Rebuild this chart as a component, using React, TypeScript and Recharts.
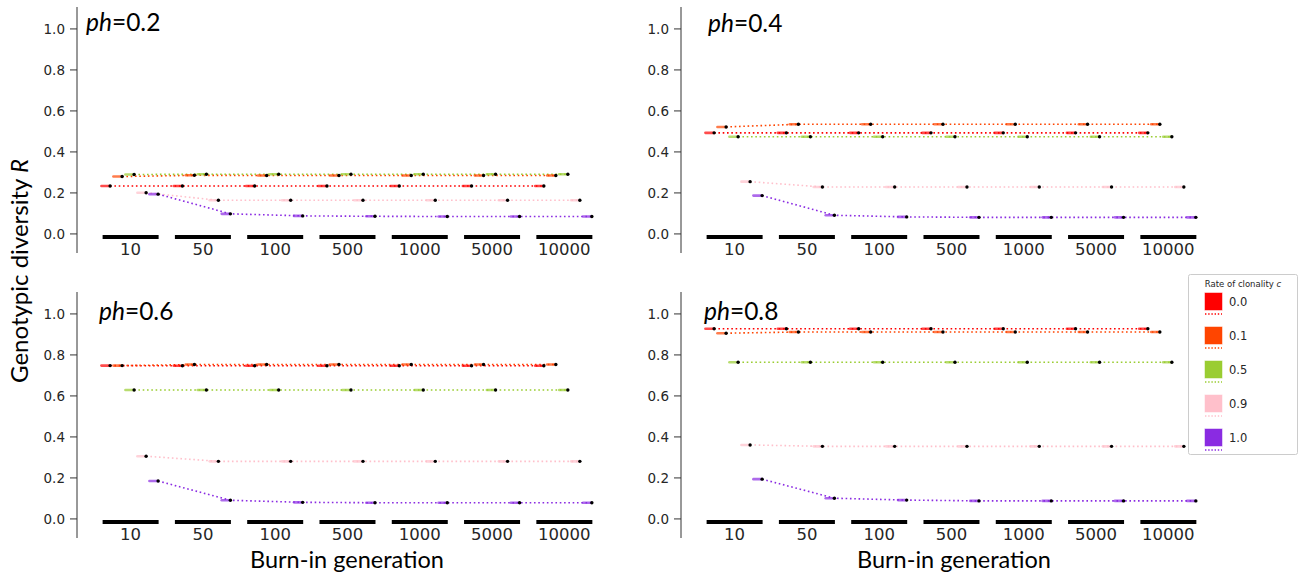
import React from 'react';
import { ComposedChart, Line, XAxis, YAxis } from 'recharts';

// ---------- data ----------
const categories = ['10', '50', '100', '500', '1000', '5000', '10000'];
const clonality = ['0.0', '0.1', '0.5', '0.9', '1.0'];
const colors = ['#ff0000', '#ff4500', '#9acd32', '#ffc0cb', '#8a2be2'];
const yTicks = [0, 0.2, 0.4, 0.6, 0.8, 1.0];
const dodge = [-0.332, -0.166, 0, 0.166, 0.332];

// ph = 0.2
const ph02_c00 = [0.234, 0.234, 0.234, 0.234, 0.234, 0.234, 0.234];
const ph02_c01 = [0.280, 0.286, 0.285, 0.285, 0.285, 0.285, 0.285];
const ph02_c05 = [0.290, 0.291, 0.291, 0.291, 0.291, 0.291, 0.291];
const ph02_c09 = [0.201, 0.164, 0.164, 0.164, 0.164, 0.164, 0.164];
const ph02_c10 = [0.194, 0.098, 0.088, 0.086, 0.085, 0.085, 0.085];
// ph = 0.4
const ph04_c00 = [0.493, 0.493, 0.493, 0.493, 0.493, 0.493, 0.493];
const ph04_c01 = [0.522, 0.535, 0.535, 0.535, 0.535, 0.535, 0.535];
const ph04_c05 = [0.474, 0.474, 0.474, 0.474, 0.474, 0.474, 0.474];
const ph04_c09 = [0.255, 0.229, 0.229, 0.229, 0.229, 0.229, 0.229];
const ph04_c10 = [0.187, 0.091, 0.083, 0.081, 0.081, 0.081, 0.081];
// ph = 0.6
const ph06_c00 = [0.748, 0.747, 0.747, 0.747, 0.747, 0.747, 0.747];
const ph06_c01 = [0.748, 0.753, 0.753, 0.753, 0.753, 0.753, 0.753];
const ph06_c05 = [0.629, 0.629, 0.629, 0.629, 0.629, 0.629, 0.629];
const ph06_c09 = [0.306, 0.281, 0.281, 0.281, 0.281, 0.281, 0.281];
const ph06_c10 = [0.185, 0.091, 0.081, 0.079, 0.079, 0.079, 0.079];
// ph = 0.8
const ph08_c00 = [0.928, 0.928, 0.928, 0.928, 0.928, 0.928, 0.928];
const ph08_c01 = [0.906, 0.912, 0.912, 0.912, 0.912, 0.912, 0.912];
const ph08_c05 = [0.764, 0.764, 0.764, 0.764, 0.764, 0.764, 0.764];
const ph08_c09 = [0.361, 0.354, 0.354, 0.354, 0.354, 0.354, 0.354];
const ph08_c10 = [0.194, 0.101, 0.092, 0.088, 0.088, 0.088, 0.088];

const panelLabels = ['0.2', '0.4', '0.6', '0.8'];
const panelSeries = [
  [ph02_c00, ph02_c01, ph02_c05, ph02_c09, ph02_c10],
  [ph04_c00, ph04_c01, ph04_c05, ph04_c09, ph04_c10],
  [ph06_c00, ph06_c01, ph06_c05, ph06_c09, ph06_c10],
  [ph08_c00, ph08_c01, ph08_c05, ph08_c09, ph08_c10],
];

// ---------- layout ----------
const X_DOMAIN: [number, number] = [-0.79, 6.5];
const Y_DOMAIN: [number, number] = [-0.093, 1.107];
const YAXIS_W = 40;
const PLOT_W = 527;
const PLOT_H = 246;
const XAXIS_H = 24;
const CHART_W = YAXIS_W + PLOT_W + 4;
const CHART_H = PLOT_H + XAXIS_H;
const panelPos = [
  { left: 37, top: 7 },
  { left: 641, top: 7 },
  { left: 37, top: 292 },
  { left: 641, top: 292 },
];
const phPos = [
  { x: 86, y: 31 },
  { x: 708, y: 32 },
  { x: 99, y: 320 },
  { x: 704, y: 320 },
];

const TEXT = '#262626';
const DASH = '1.6 2.7';

const CatTick = (props: any) => {
  const { x, y, payload } = props;
  const cx = x - 3.5;
  return (
    <g>
      <rect x={cx - 28} y={y - 18} width={56} height={4} fill="#000" />
      <text x={cx} y={y + 2} textAnchor="middle" fontSize={16.5} fontFamily="DejaVu Sans" fill={TEXT}>
        {categories[payload.value]}
      </text>
    </g>
  );
};

const makeDot = (color: string) => (p: any) => {
  const { cx, cy, index } = p;
  if (cx == null || cy == null) return <g key={`e${index}`} />;
  return (
    <g key={`d${index}`}>
      <rect x={cx - 10} y={cy - 1.3} width={11} height={2.6} rx={1.3} fill={color} opacity={0.7} />
      <circle cx={cx} cy={cy} r={1.7} fill="#000" />
    </g>
  );
};

function Panel({ idx }: { idx: number }) {
  const series = panelSeries[idx];
  return (
    <div style={{ position: 'absolute', left: panelPos[idx].left, top: panelPos[idx].top }}>
      <ComposedChart width={CHART_W} height={CHART_H} margin={{ top: 0, right: 4, bottom: 0, left: 0 }}>
        <XAxis
          type="number"
          dataKey="x"
          domain={X_DOMAIN}
          allowDataOverflow
          ticks={[0, 1, 2, 3, 4, 5, 6]}
          interval={0}
          height={XAXIS_H}
          axisLine={false}
          tickLine={false}
          tickSize={0}
          tickMargin={0}
          tick={<CatTick />}
        />
        <YAxis
          type="number"
          domain={Y_DOMAIN}
          allowDataOverflow
          ticks={yTicks}
          interval={0}
          width={YAXIS_W}
          tickFormatter={(v: number) => v.toFixed(1)}
          tick={{ fontSize: 13.5, fontFamily: 'DejaVu Sans', fill: TEXT }}
          stroke="#333"
          tickSize={7}
          tickMargin={5}
        />
        {series.map((vals, j) => (
          <Line
            key={j}
            data={vals.map((v, i) => ({ x: i + dodge[j], y: v }))}
            dataKey="y"
            type="linear"
            stroke={colors[j]}
            strokeWidth={1.6}
            strokeDasharray={DASH}
            dot={makeDot(colors[j])}
            activeDot={false}
            isAnimationActive={false}
          />
        ))}
      </ComposedChart>
    </div>
  );
}

function Overlay() {
  const lx = 1188;
  const ly = 274;
  return (
    <svg width={1301} height={573} style={{ position: 'absolute', left: 0, top: 0, pointerEvents: 'none' }}>
      {panelLabels.map((l, i) => (
        <text key={i} x={phPos[i].x} y={phPos[i].y} fontFamily="Lato" fontSize={24.5} fill="#000">
          <tspan fontStyle="italic">ph</tspan>={l}
        </text>
      ))}
      <text x={347} y={568} textAnchor="middle" fontFamily="Lato" fontSize={23.5} fill="#000">Burn-in generation</text>
      <text x={954} y={568} textAnchor="middle" fontFamily="Lato" fontSize={23.5} fill="#000">Burn-in generation</text>
      <text x={28} y={271} textAnchor="middle" fontFamily="Lato" fontSize={24} fill="#000" transform="rotate(-90 28 271)">
        Genotypic diversity <tspan fontStyle="italic">R</tspan>
      </text>
      {/* legend */}
      <rect x={lx + 0.5} y={ly + 0.5} width={109} height={180} rx={2} fill="#fff" stroke="#cccccc" />
      <text x={lx + 55} y={ly + 13} textAnchor="middle" fontFamily="DejaVu Sans" fontSize={8.5} fill={TEXT}>
        Rate of clonality <tspan fontStyle="italic">c</tspan>
      </text>
      {clonality.map((c, j) => {
        const top = 293 + j * 34;
        return (
          <g key={c}>
            <rect x={1205} y={top} width={17} height={17} fill={colors[j]} stroke={colors[j]} strokeOpacity={0.5} />
            <line x1={1205} x2={1222} y1={top + 21} y2={top + 21} stroke={colors[j]} strokeWidth={1.4} strokeDasharray="1.4 1.8" />
            <text x={1229} y={top + 13} fontFamily="DejaVu Sans" fontSize={11.5} fill={TEXT}>{c}</text>
          </g>
        );
      })}
    </svg>
  );
}

export default function App() {
  return (
    <div style={{ position: 'absolute', left: 0, top: 0, width: 1301, height: 573, background: '#fff' }}>
      {[0, 1, 2, 3].map((i) => (
        <Panel key={i} idx={i} />
      ))}
      <Overlay />
    </div>
  );
}
